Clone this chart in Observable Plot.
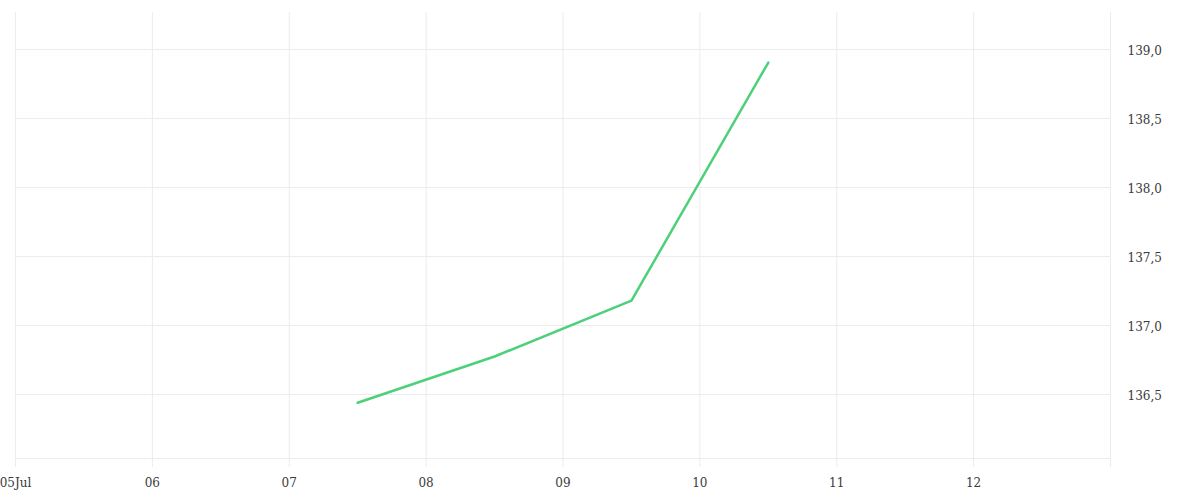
<!DOCTYPE html>
<html>
<head>
<meta charset="utf-8">
<script src="https://cdn.jsdelivr.net/npm/d3@7"></script>
<script src="https://cdn.jsdelivr.net/npm/@observablehq/plot@0.6"></script>
<style>
  html, body { margin: 0; padding: 0; background: #fff; }
  #chart { width: 1200px; height: 500px; }
</style>
</head>
<body>
<div id="chart"></div>
<script>
// Data
const dates = ["2023-07-07T12:00Z", "2023-07-08T12:00Z", "2023-07-09T12:00Z", "2023-07-10T12:00Z"];
const values = [136.44, 136.775, 137.18, 138.905];
const xTickDates = ["2023-07-05", "2023-07-06", "2023-07-07", "2023-07-08", "2023-07-09", "2023-07-10", "2023-07-11", "2023-07-12", "2023-07-13"];
const yTicks = [136.5, 137.0, 137.5, 138.0, 138.5, 139.0];
const xDomain = ["2023-07-05", "2023-07-13"];
const yDomain = [136.036, 139.268];

const data = dates.map((d, i) => ({date: new Date(d), value: values[i]}));
const xt = xTickDates.map(d => new Date(d + "T00:00Z"));
const xd = xDomain.map(d => new Date(d + "T00:00Z"));

const fmtX = (d, i) => {
  const day = d3.utcFormat("%d")(d);
  if (i === 0) return day + "Jul";
  if (i === xt.length - 1) return "";
  return day;
};
const fmtY = v => v.toFixed(1).replace(".", ",");

const gridColor = "#ececec";
const textColor = "#3a3a3a";

const chart = Plot.plot({
  width: 1200,
  height: 500,
  marginLeft: 15,
  marginRight: 90,
  marginTop: 12,
  marginBottom: 42,
  style: {fontFamily: "'DejaVu Serif', serif", fontSize: "12px", color: textColor, background: "#fff"},
  x: {type: "utc", domain: xd, label: null},
  y: {domain: yDomain, label: null},
  marks: [
    Plot.gridX(xt, {stroke: gridColor, strokeOpacity: 1}),
    Plot.gridY(yTicks, {stroke: gridColor, strokeOpacity: 1}),
    Plot.ruleY([yDomain[0]], {stroke: gridColor}),
    Plot.axisX(xt, {tickSize: 9, stroke: gridColor, strokeOpacity: 1, tickPadding: 11, tickFormat: fmtX, fill: textColor, fontSize: 12, label: null}),
    Plot.axisY(yTicks, {anchor: "right", tickSize: 0, tickPadding: 17, tickFormat: fmtY, textAnchor: "start", fill: textColor, fontSize: 12, dy: 2, label: null}),
    Plot.line(data, {x: "date", y: "value", stroke: "#4cd07a", strokeWidth: 2.5, curve: "linear"})
  ]
});
document.getElementById("chart").appendChild(chart);
</script>
</body>
</html>
